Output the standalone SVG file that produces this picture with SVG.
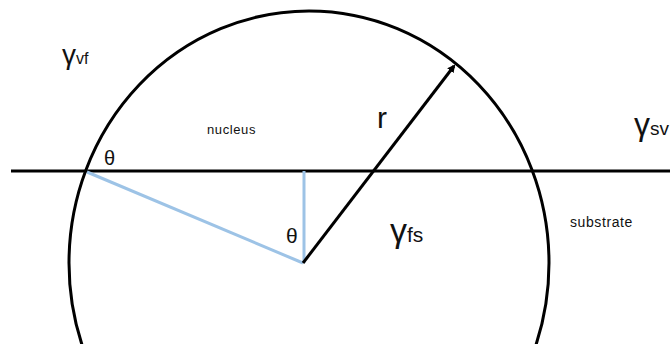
<svg xmlns="http://www.w3.org/2000/svg" width="670" height="344" viewBox="0 0 670 344">
<style>
.k{stroke:#000;stroke-width:3;fill:none}
.b{stroke:#9dc3e6;stroke-width:3;fill:none}
text{font-family:"Liberation Sans",Arial,sans-serif;fill:#111}
.sm{letter-spacing:0.6px}
</style>
<defs>
<marker id="ah" markerWidth="8" markerHeight="8" refX="6" refY="4" orient="auto" markerUnits="userSpaceOnUse">
<path d="M0,0 L8,4 L0,8 Z" fill="#000"/>
</marker>
</defs>
<rect width="670" height="344" fill="#fff"/>
<g id="droplet">
<ellipse class="k" cx="309" cy="263" rx="240" ry="252"/>
</g>
<g id="substrate-line">
<line class="k" x1="11" y1="171" x2="670" y2="171"/>
</g>
<g id="connectors">
<line class="b" x1="87" y1="172" x2="303" y2="263"/>
<line class="b" x1="304" y1="171" x2="304" y2="263"/>
<line class="k" x1="303" y1="263" x2="454" y2="66" marker-end="url(#ah)"/>
</g>
<g id="labels">
<text x="62" y="64" font-size="28">γ<tspan font-size="16">vf</tspan></text>
<text class="sm" x="207" y="134" font-size="13">nucleus</text>
<text x="104" y="165" font-size="20">θ</text>
<text x="377" y="128" font-size="30">r</text>
<text x="634" y="135" font-size="32">γ<tspan font-size="19">sv</tspan></text>
<text x="286" y="243" font-size="21">θ</text>
<text x="390" y="242" font-size="34">γ<tspan font-size="21">fs</tspan></text>
<text class="sm" x="570" y="227" font-size="14">substrate</text>
</g>
</svg>
